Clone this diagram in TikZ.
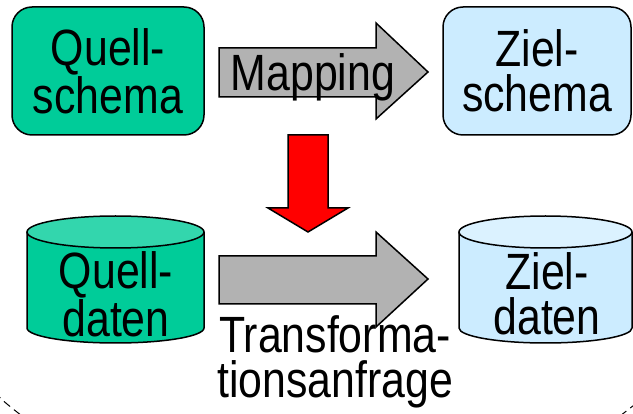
\documentclass[tikz,border=0pt]{standalone}
\usepackage{fontspec}
\setmainfont{Liberation Sans}[FakeStretch=0.84]
\usetikzlibrary{positioning}
\definecolor{quellgreen}{RGB}{0,204,153}
\definecolor{quelltop}{RGB}{51,214,173}
\definecolor{zielblue}{RGB}{204,236,255}
\definecolor{zieltop}{RGB}{219,242,255}
\definecolor{arrowgray}{RGB}{178,178,178}
\newcommand{\bigtext}{\fontsize{51}{45}\selectfont}
\tikzset{
 schemabox/.style={rectangle,rounded corners=20pt,draw=black,line width=1.5pt,minimum width=192pt,minimum height=128pt,align=center,font=\bigtext,inner sep=0pt},
 textlabel/.style={align=center,font=\bigtext,inner sep=0pt},
 blockarrow/.style={draw=black,line width=1.5pt,fill=arrowgray,line join=miter},
 dbbody/.style={draw=black,line width=1.5pt},
 boundary/.style={draw=black,line width=1pt,dash pattern=on 8pt off 5pt}}

\begin{document}
\begin{tikzpicture}[x=1pt,y=-1pt]
\useasboundingbox (0,0) rectangle (633,414);
% schemata
\node[schemabox,fill=quellgreen] (quellschema) at (108,71) {Quell-\\schema};
\node[schemabox,fill=zielblue,minimum width=188pt] (zielschema) at (537,71) {Ziel-\\schema};
% block arrows
\draw[blockarrow] (219,48) -- (376,48) -- (376,23) -- (428,72) -- (376,119) -- (376,97) -- (219,97) -- cycle;
\draw[blockarrow,fill=red] (288,135) -- (328,135) -- (328,208) -- (348,208) -- (308,232) -- (268,208) -- (288,208) -- cycle;
\draw[blockarrow] (219,256) -- (376,256) -- (376,232) -- (428,279) -- (376,327) -- (376,304) -- (219,304) -- cycle;
% databases
\draw[dbbody,fill=quellgreen] (27,232) -- (27,328) arc[start angle=180,end angle=360,x radius=88.5pt,y radius=15pt] -- (204,232);
\draw[dbbody,fill=quelltop] (115.5,232) ellipse[x radius=88.5pt,y radius=16pt];
\draw[dbbody,fill=zielblue] (459,232) -- (459,328) arc[start angle=180,end angle=360,x radius=86.5pt,y radius=15pt] -- (632,232);
\draw[dbbody,fill=zieltop] (545.5,232) ellipse[x radius=86.5pt,y radius=16pt];
% labels
\node[textlabel] (mapping) at (313,77) {Mapping};
\node[textlabel] (quelldaten) at (116,294) {Quell-\\daten};
\node[textlabel] (zieldaten) at (547,294) {Ziel-\\daten};
\node[textlabel] (transformation) at (335,362) {Transforma-\\tionsanfrage};
% dashed boundary, cut off at the bottom
\draw[boundary] (-5,392) .. controls (3,401) .. (22,416);
\draw[boundary] (620,416) .. controls (628,409) .. (638,402);
\end{tikzpicture}
\end{document}
